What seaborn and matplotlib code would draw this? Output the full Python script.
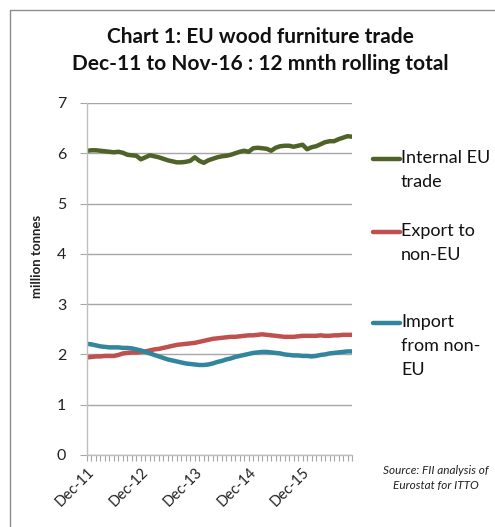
import numpy as np
import pandas as pd
import matplotlib
matplotlib.use("Agg")
import matplotlib.pyplot as plt
import seaborn as sns
from matplotlib.lines import Line2D

sns.set_theme(style="white")
plt.rcParams['font.family'] = ['Lato', 'DejaVu Sans']

months = pd.date_range("2011-12-01", periods=60, freq="MS").strftime("%b-%y").tolist()

internal_eu = [6.05, 6.06, 6.06, 6.05, 6.04, 6.03, 6.02, 6.03, 6.01, 5.97, 5.96, 5.95,
               5.88, 5.92, 5.96, 5.94, 5.92, 5.89, 5.86, 5.84, 5.82, 5.82, 5.83, 5.85,
               5.92, 5.85, 5.81, 5.86, 5.89, 5.92, 5.94, 5.95, 5.97, 6.00, 6.03, 6.05,
               6.03, 6.10, 6.11, 6.10, 6.09, 6.05, 6.11, 6.14, 6.15, 6.15, 6.13, 6.15,
               6.17, 6.08, 6.12, 6.14, 6.18, 6.22, 6.24, 6.24, 6.28, 6.31, 6.34, 6.33]
export_non_eu = [1.94, 1.95, 1.96, 1.96, 1.97, 1.97, 1.97, 1.99, 2.02, 2.03, 2.04, 2.04,
                 2.05, 2.06, 2.08, 2.10, 2.11, 2.13, 2.15, 2.17, 2.19, 2.20, 2.21, 2.22,
                 2.23, 2.25, 2.27, 2.29, 2.31, 2.32, 2.33, 2.34, 2.35, 2.35, 2.36, 2.37,
                 2.38, 2.38, 2.39, 2.40, 2.39, 2.38, 2.37, 2.36, 2.35, 2.35, 2.35, 2.36,
                 2.37, 2.37, 2.37, 2.37, 2.38, 2.37, 2.37, 2.38, 2.38, 2.39, 2.39, 2.39]
import_non_eu = [2.21, 2.20, 2.18, 2.16, 2.15, 2.14, 2.14, 2.14, 2.13, 2.13, 2.12, 2.10,
                 2.08, 2.05, 2.02, 1.99, 1.96, 1.93, 1.90, 1.88, 1.86, 1.84, 1.82, 1.81,
                 1.80, 1.79, 1.79, 1.80, 1.82, 1.85, 1.87, 1.90, 1.92, 1.95, 1.97, 1.99,
                 2.01, 2.03, 2.04, 2.05, 2.05, 2.04, 2.03, 2.02, 2.00, 1.99, 1.98, 1.98,
                 1.97, 1.97, 1.96, 1.97, 1.99, 2.00, 2.02, 2.03, 2.04, 2.05, 2.06, 2.06]

series_names = ["Internal EU\ntrade", "Export to\nnon-EU", "Import\nfrom non-\nEU"]
colors = ["#4F6228", "#C0504D", "#31859C"]
xtick_labels = ["Dec-11", "Dec-12", "Dec-13", "Dec-14", "Dec-15"]
yticks = [0, 1, 2, 3, 4, 5, 6, 7]

df = pd.DataFrame({
    "idx": list(range(len(months))) * 3,
    "month": months * 3,
    "value": internal_eu + export_non_eu + import_non_eu,
    "series": [series_names[0]] * 60 + [series_names[1]] * 60 + [series_names[2]] * 60,
})

W, H = 495, 527
fig = plt.figure(figsize=(W / 100, H / 100), dpi=100)
ax = fig.add_axes([87 / W, 1 - 455 / H, (352 - 87) / W, (455 - 103) / H])

sns.lineplot(data=df, x="idx", y="value", hue="series", palette=colors,
             linewidth=3.2, ax=ax, legend=False)

ax.set_xlim(0, 59)
ax.set_ylim(0, 7)
ax.set_yticks(yticks)
ax.set_yticklabels([str(v) for v in yticks], fontsize=11.5, color="#222222")
ax.yaxis.grid(True, color="#A6A6A6", linewidth=1)
ax.set_axisbelow(True)

idx_labels = [months.index(l) for l in xtick_labels]
ax.set_xticks(idx_labels)
ax.set_xticklabels(xtick_labels, rotation=45, ha="right", rotation_mode="anchor",
                   fontsize=10.5, color="#222222")
ax.set_xticks(list(range(60)), minor=True)
ax.tick_params(axis="x", which="both", direction="out", length=4, width=0.8,
               color="#A6A6A6", pad=3, bottom=True)
ax.tick_params(axis="y", which="major", direction="out", length=5, width=0.8,
               color="#A6A6A6", pad=10, left=True)
for s in ["top", "right"]:
    ax.spines[s].set_visible(False)
for s in ["left", "bottom"]:
    ax.spines[s].set_color("#BFBFBF")
    ax.spines[s].set_linewidth(1)
ax.set_xlabel("")
ax.set_ylabel("")

fig.text(37 / W, 1 - 256 / H, "million tonnes", rotation=90, ha="center", va="center",
         fontsize=9.5, fontweight="bold", color="#222222")

fig.text(260 / W, 1 - 37 / H, "Chart 1: EU wood furniture trade", ha="center", va="center",
         fontsize=15, fontweight="bold", color="#111111")
fig.text(260 / W, 1 - 64 / H, "Dec-11 to Nov-16 : 12 mnth rolling total", ha="center",
         va="center", fontsize=15, fontweight="bold", color="#111111")

# legend
leg_y = [159, 232, 323]
for name, c, yy in zip(series_names, colors, leg_y):
    fig.add_artist(Line2D([373 / W, 400 / W], [1 - yy / H, 1 - yy / H], color=c,
                          linewidth=3.2, solid_capstyle="round", transform=fig.transFigure))
    fig.text(401 / W, 1 - (yy - 9) / H, name, ha="left", va="top", fontsize=13,
             linespacing=1.62, color="#111111")

fig.text(436 / W, 1 - 478 / H, "Source: FII analysis of\nEurostat for ITTO", ha="center",
         va="center", fontsize=8.5, style="italic", color="#222222", linespacing=1.55)

# frame lines
fig.add_artist(Line2D([10 / W, 1], [1 - 10 / H, 1 - 10 / H], color="#8C8C8C", linewidth=1,
                      transform=fig.transFigure))
fig.add_artist(Line2D([10 / W, 10 / W], [0, 1 - 10 / H], color="#8C8C8C", linewidth=1,
                      transform=fig.transFigure))

fig.savefig("out.png", dpi=100)
